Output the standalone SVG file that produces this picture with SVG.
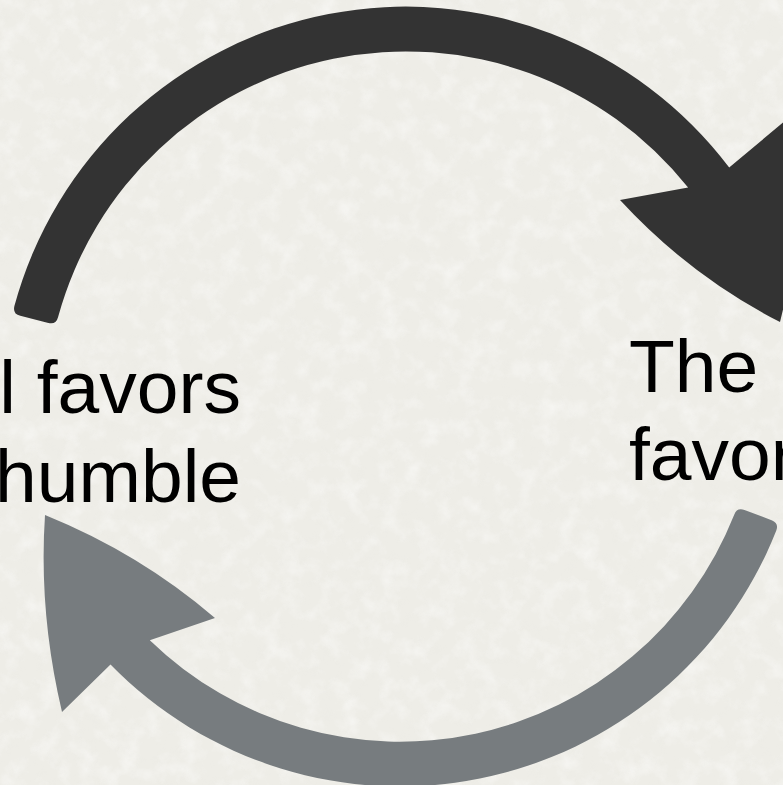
<svg xmlns="http://www.w3.org/2000/svg" width="783" height="785" viewBox="0 0 783 785">
  <style>
    .label { font-family: "Liberation Sans", Arial, sans-serif; font-size: 75px; fill: #000000; }
    .arrow-dark { fill: #333333; }
    .arrow-gray { fill: #777c7f; }
  </style>
  <defs>
    <filter id="paper" x="0" y="0" width="100%" height="100%">
      <feTurbulence type="fractalNoise" baseFrequency="0.05" numOctaves="4" seed="7" result="n"/>
      <feColorMatrix in="n" type="matrix" values="0 0 0 0 1  0 0 0 0 1  0 0 0 0 1  1.6 0 0 0 -0.72"/>
    </filter>
    <filter id="paper2" x="0" y="0" width="100%" height="100%">
      <feTurbulence type="fractalNoise" baseFrequency="0.09" numOctaves="3" seed="2" result="n"/>
      <feColorMatrix in="n" type="matrix" values="0 0 0 0 0.78  0 0 0 0 0.78  0 0 0 0 0.74  1.2 0 0 0 -0.62"/>
    </filter>
  </defs>

  <!-- paper background -->
  <rect x="0" y="0" width="783" height="785" fill="#eeede7"/>
  <rect x="0" y="0" width="783" height="785" filter="url(#paper)" opacity="0.6"/>
  <rect x="0" y="0" width="783" height="785" filter="url(#paper2)" opacity="0.2"/>

  <g id="connectors">
    <path id="arrow-top" class="arrow-dark"
      d="M 14.4,306.1 A 405.5 405.5 0 0 1 729.2,167.5 L 786,120 Q 806,220 780,322 Q 690,276 620,200 L 688.1,187.6 A 360.5 360.5 0 0 0 58.1,317.0 Q 56.2,324.8 48.4,322.9 L 20.3,315.8 Q 12.5,313.9 14.4,306.1 Z"/>
    <path id="arrow-bottom" class="arrow-gray"
      d="M 776.3,530.5 A 404.5 404.5 0 0 1 110.5,664.5 L 62,712 Q 38.5,612.5 45,515 Q 140,553.5 215,618 L 149.8,640.2 A 359.5 359.5 0 0 0 734.2,514.8 Q 737.0,507.3 744.5,510.1 L 771.6,520.2 Q 779.1,523.0 776.3,530.5 Z"/>
  </g>

  <g id="node-left">
    <text class="label" x="241" y="413" text-anchor="end">l favors</text>
    <text class="label" x="241" y="502" text-anchor="end">humble</text>
  </g>

  <g id="node-right">
    <text class="label" x="629" y="392">The</text>
    <text class="label" x="629" y="480">favor</text>
  </g>
</svg>
